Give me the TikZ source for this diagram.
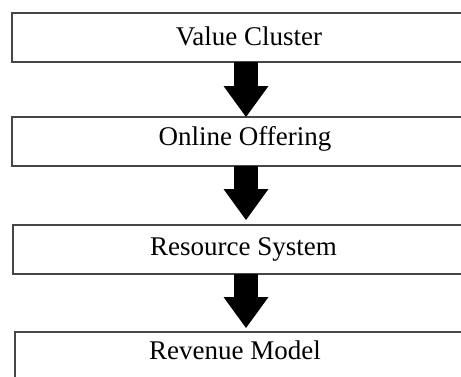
\documentclass[tikz,border=0pt]{standalone}
\usepackage{fontspec}
\setmainfont{Liberation Serif}
\usetikzlibrary{arrows.meta}
\definecolor{boxline}{RGB}{70,70,70}

\begin{document}
\begin{tikzpicture}[x=1pt, y=-1pt,
  box/.style={rectangle, draw=boxline, line width=1.5pt, outer sep=0pt, inner sep=0pt,
    minimum width=500pt, minimum height=49pt, anchor=north west},
  boxtext/.style={anchor=base, inner sep=0pt, font=\fontsize{27}{32}\selectfont},
  blockarrow/.style={line width=24pt, -{Triangle[width=45pt, length=31pt, line width=0pt]}}]

  \useasboundingbox (0,0) rectangle (461,376);
  \clip (0,0) rectangle (461,376);

  \node[box] (vc) at (12,13) {};
  \node[box] (oo) at (12,117) {};
  \node[box] (rs) at (13,225) {};
  \node[box] (rm) at (15,332) {};

  \node[boxtext] (vctext) at (249,45) {Value Cluster};
  \node[boxtext] (ootext) at (245,145) {Online Offering};
  \node[boxtext] (rstext) at (243.5,255) {Resource System};
  \node[boxtext] (rmtext) at (235,359) {Revenue Model};

  \coordinate (axis) at (246,0);

  \path[blockarrow]
    (vc.south -| axis) edge (oo.north -| axis)
    (oo.south -| axis) edge[shorten >=5pt] (rs.north -| axis)
    (rs.south -| axis) edge[shorten >=4pt] (rm.north -| axis);

\end{tikzpicture}
\end{document}
